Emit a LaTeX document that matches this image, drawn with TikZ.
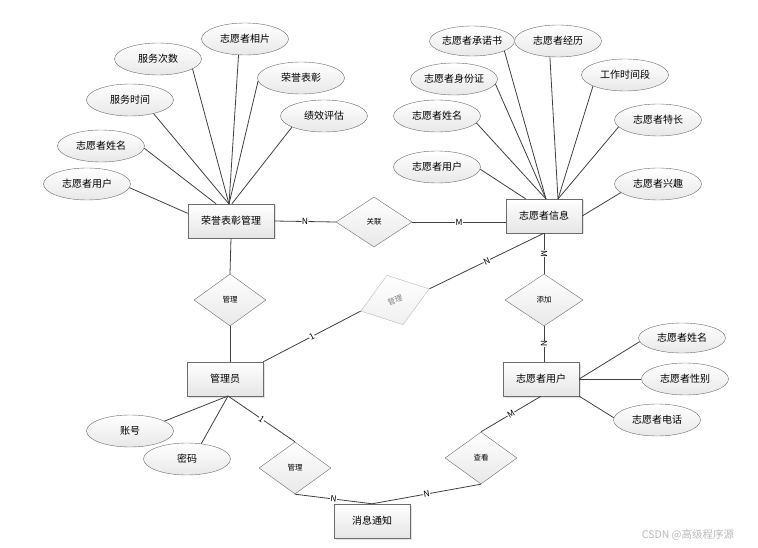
\documentclass[tikz,border=0pt]{standalone}
\usepackage{fontspec}
\setmainfont{Noto Sans CJK SC}
\usetikzlibrary{shapes.geometric,shadows}

\begin{document}
\begin{tikzpicture}[x=1pt,y=-1pt,
  font=\fontsize{10}{12}\selectfont,
  entity/.style={draw=gray!85!black,top color=white,bottom color=gray!20,
    minimum width=76,minimum height=34,inner sep=1pt,
    drop shadow={shadow xshift=1.5pt,shadow yshift=-1.5pt,fill=gray!45}},
  attr/.style={ellipse,draw=gray!85!black,top color=white,bottom color=gray!18,
    minimum width=87,minimum height=32,inner sep=0pt},
  rel/.style={diamond,draw=gray!85!black,top color=white,bottom color=gray!18,
    minimum width=72,minimum height=52,inner sep=0pt,font=\fontsize{7.5}{8}\selectfont},
  card/.style={fill=white,inner sep=0.4pt,sloped,font=\fontsize{8.5}{9}\selectfont},
  link/.style={draw=black!75,line width=0.8pt}]
  \useasboundingbox (0,0) rectangle (758,548);

  % entities
  \node[entity,minimum width=86] (honor) at (231,221) {荣誉表彰管理};
  \node[entity] (info) at (544,216) {志愿者信息};
  \node[entity] (admin) at (225,379) {管理员};
  \node[entity] (vuser) at (541,379) {志愿者用户};
  \node[entity] (notice) at (372,521) {消息通知};

  % relations
  \node[rel,minimum width=76,minimum height=50] (assoc) at (374,222) {关联};
  \node[rel] (mng1) at (230,300) {管理};
  \node[rel,minimum width=78] (addrel) at (544,300) {添加};
  \node[rel] (mng3) at (295,468) {管理};
  \node[rel] (view) at (481,458) {查看};
  \node[rel,rotate=18,draw=gray!55,text=gray,bottom color=gray!12] (mng2) at (395,300) {管理};

  % attributes of honor
  \node[attr] (h1) at (87,184) {志愿者用户};
  \node[attr] (h2) at (101,146) {志愿者姓名};
  \node[attr] (h3) at (130,100) {服务时间};
  \node[attr] (h4) at (158,59) {服务次数};
  \node[attr] (h5) at (245,39) {志愿者相片};
  \node[attr] (h6) at (301,78) {荣誉表彰};
  \node[attr] (h7) at (324,116) {绩效评估};

  % attributes of info
  \node[attr,minimum width=85,minimum height=30] (i1) at (472,41) {志愿者承诺书};
  \node[attr] (i2) at (558,41) {志愿者经历};
  \node[attr] (i3) at (625,75) {工作时间段};
  \node[attr] (i4) at (454,79) {志愿者身份证};
  \node[attr] (i5) at (437,116) {志愿者姓名};
  \node[attr] (i6) at (658,120) {志愿者特长};
  \node[attr] (i7) at (437,167) {志愿者用户};
  \node[attr] (i8) at (658,184) {志愿者兴趣};

  % attributes of vuser and admin
  \node[attr,minimum height=30] (u1) at (682,338) {志愿者姓名};
  \node[attr] (u2) at (685,379) {志愿者性别};
  \node[attr] (u3) at (657,420) {志愿者电话};
  \node[attr] (a1) at (130,431) {账号};
  \node[attr] (a2) at (187,459) {密码};

  % hubs
  \coordinate (hh) at (229,204);
  \coordinate (ih1) at (546,199);
  \coordinate (ih2) at (558,199);
  \coordinate (ah) at (228,396);

  % attribute lines
  \draw[link] (h1.-5) -- (honor.170);
  \draw[link] (h2.-3) -- (honor.131);
  \draw[link] (h3.-30) -- (hh);
  \draw[link] (h4.-16) -- (hh);
  \draw[link] (h5.-112) -- (hh);
  \draw[link] (h6.184) -- (hh);
  \draw[link] (h7.199) -- (honor.87);
  \draw[link] (i7.-3) -- (info.137);
  \draw[link] (i5.-10) -- (ih1);
  \draw[link] (i4.-7) -- (ih1);
  \draw[link] (i1.-17) -- (ih1);
  \draw[link] (i2.-117) -- (ih2);
  \draw[link] (i3.-161) -- (ih2);
  \draw[link] (i6.190) -- (ih2);
  \draw[link] (i8.193) -- (info.east);
  \draw[link] (vuser.east) -- (u1.185);
  \draw[link] (vuser.east) -- (u2.west);
  \draw[link] (vuser.south east) -- (u3.177);
  \draw[link] (ah) -- (a1.16);
  \draw[link] (ah) -- (a2.47);

  % relation lines
  \draw[link] (honor.east) -- node[card]{N} (assoc.west);
  \draw[link] (assoc.east) -- node[card]{M} (assoc.east -| info.west);
  \draw[link] (honor.south) -- (mng1.north);
  \draw[link] (mng1.south) -- (mng1.south |- admin.north);
  \draw[link] (admin.north east) -- node[card]{1} (mng2.west);
  \draw[link] (mng2.east) -- node[card]{N} (info.south);
  \draw[link] (info.south) -- node[card]{M} (addrel.north);
  \draw[link] (addrel.south) -- node[card]{N} (addrel.south |- vuser.north);
  \draw[link] (ah) -- node[card]{1} (mng3.north);
  \draw[link] (mng3.south) -- node[card]{N} (notice.north);
  \draw[link] (notice.north) -- node[card]{N} (view.south);
  \draw[link] (view.north) -- node[card]{M} (vuser.south);

  % watermark
  \node[text=gray!55,font=\fontsize{10.5}{12}\selectfont] (wm) at (688,535) {CSDN @高级程序源};
\end{tikzpicture}
\end{document}
